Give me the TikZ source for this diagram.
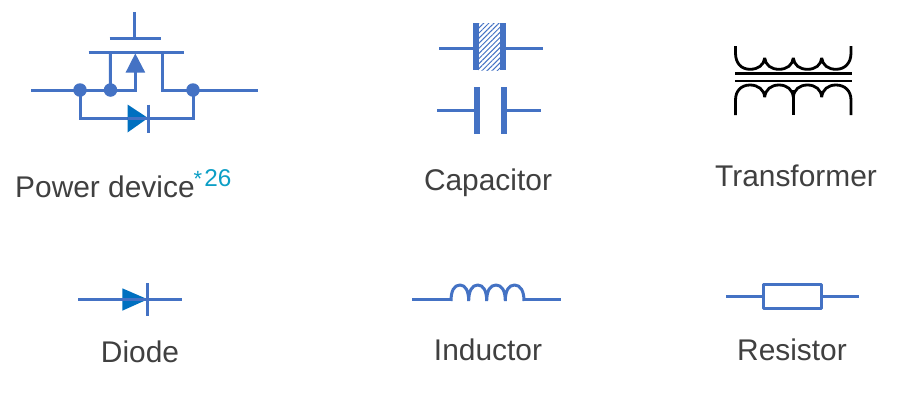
\documentclass[tikz,border=0pt]{standalone}
\usepackage{fontspec}
\setmainfont{Liberation Sans}
\usetikzlibrary{patterns.meta}
\definecolor{wireblue}{HTML}{4472C4}
\definecolor{diodeblue}{HTML}{0070C0}
\definecolor{labelgray}{HTML}{404040}
\definecolor{notecyan}{HTML}{0C9FC6}
\tikzset{
  wire/.style={draw=wireblue,line width=3pt},
  thinwire/.style={draw=wireblue,line width=3pt},
  plate/.style={fill=wireblue,draw=none},
  dot/.style={circle,fill=wireblue,draw=none,minimum size=13.5pt,inner sep=0pt},
  diodehead/.style={fill=diodeblue,draw=none},
  arrowhead/.style={fill=wireblue,draw=none},
  coil/.style={draw=black,line width=2.8pt},
  label/.style={anchor=base,text=labelgray,font=\fontsize{29.9pt}{32pt}\selectfont,inner sep=0pt},
}
\begin{document}
\begin{tikzpicture}[x=1pt,y=-1pt]
\useasboundingbox (0,0) rectangle (900,400);
\fill[white] (0,0) rectangle (900,400);
% Power device
\node[dot] (d1) at (80,90) {};
\node[dot] (d2) at (110.5,90) {};
\node[dot] (d3) at (193,90) {};
\draw[wire] (134.3,12) -- (134.3,37);
\draw[wire] (109.5,38.3) -- (160.5,38.3);
\draw[wire] (88.5,52.3) -- (184,52.3);
\draw[wire] (110.3,52.3) -- (d2.center);
\draw[wire,line join=miter] (31,90) -- (135.3,90) -- (135.3,71);
\draw[wire,line join=miter] (162.5,52.3) -- (162.5,90) -- (258,90);
\fill[arrowhead] (135.3,53.5) -- (145.2,72.5) -- (125.6,72.5) -- cycle;
\draw[wire,line join=miter] (d1.center) -- (80,118) -- (193,118) -- (d3.center);
\fill[diodehead] (127.5,104.5) -- (148,118) -- (127.5,132.5) -- cycle;
\draw[thinwire] (148,104.5) -- (148,132.5);
\draw[wire] (127.5,118) -- (148,118);
\node[anchor=base west,text=labelgray,font=\fontsize{29.9pt}{32pt}\selectfont,inner sep=0pt] (tpower) at (15,197.5) {Power device};
\node[anchor=base west,text=notecyan,font=\fontsize{24.3pt}{26pt}\selectfont,inner sep=0pt] (tnote) at (193.5,186.8) {{\fontsize{22pt}{24pt}\selectfont *}\kern 2pt 26};
% Capacitor upper
\fill[pattern={Lines[angle=45,distance=3.6pt,line width=1pt]},pattern color=wireblue] (478,23) rectangle (501,70);
\fill[plate] (473,23) rectangle (479,70);
\fill[plate] (500.3,23) rectangle (506,70);
\draw[wire] (439,48.3) -- (473,48.3);
\draw[wire] (506,48.3) -- (543,48.3);
% Capacitor lower
\fill[plate] (474,87) rectangle (480,134);
\fill[plate] (501,87) rectangle (507,134);
\draw[wire] (437,110.3) -- (474,110.3);
\draw[wire] (507,110.3) -- (541,110.3);
\node[label] (tcap) at (488,190) {Capacitor};
% Transformer
\draw[coil,line join=bevel] (735.5,46) -- (735.5,53)
  .. controls (735.5,63) and (741,69.3) .. (750,69.3)
  .. controls (758,69.3) and (764,65) .. (764.7,58)
  .. controls (765.5,65) and (771,69.3) .. (779,69.3)
  .. controls (787,69.3) and (792.5,65) .. (793.3,58)
  .. controls (794,65) and (799.5,69.3) .. (807.5,69.3)
  .. controls (815.5,69.3) and (821,65) .. (821.7,58)
  .. controls (822.5,65) and (828,69.3) .. (836,69.3)
  .. controls (845,69.3) and (851,63) .. (851,53) -- (851,46);
\draw[coil] (735,73.3) -- (852,73.3);
\draw[coil,line width=2.2pt] (735,80.7) -- (852,80.7);
\draw[coil,line join=bevel] (735.5,115) -- (735.5,100)
  .. controls (735.5,91) and (741,85) .. (750,85)
  .. controls (758,85) and (764,89.5) .. (764.7,97)
  .. controls (765.5,89.5) and (771,85) .. (779,85)
  .. controls (787,85) and (792.5,89.5) .. (793.3,97)
  .. controls (794,89.5) and (799.5,85) .. (807.5,85)
  .. controls (815.5,85) and (821,89.5) .. (821.7,97)
  .. controls (822.5,89.5) and (828,85) .. (836,85)
  .. controls (845,85) and (851,91) .. (851,100) -- (851,115);
\draw[coil] (793.3,90) -- (793.3,115);
\node[label] (ttrans) at (796,186) {Transformer};
% Diode
\draw[wire] (78.3,299.3) -- (182.3,299.3);
\fill[diodehead] (122.3,288.3) -- (147.7,299.3) -- (122.3,310.7) -- cycle;
\draw[wire] (122.3,299.3) -- (147.7,299.3);
\draw[thinwire] (147.7,283.3) -- (147.7,315.7);
\node[label] (tdiode) at (140,362) {Diode};
% Inductor
\draw[wire] (412,299.3) -- (451,299.3);
\draw[wire] (524,299.3) -- (561,299.3);
\draw[wire,line join=bevel] (451,301) .. controls (451,291) and (454,285) .. (460,285)
  .. controls (465.5,285) and (468.7,291) .. (468.7,301)
  .. controls (468.7,291) and (472,285) .. (477.7,285)
  .. controls (483.5,285) and (486.7,291) .. (486.7,301)
  .. controls (486.7,291) and (490,285) .. (496,285)
  .. controls (502,285) and (505.3,291) .. (505.3,301)
  .. controls (505.3,291) and (508.5,285) .. (514.5,285)
  .. controls (520.5,285) and (524,291) .. (524,301);
\node[label] (tind) at (488,360) {Inductor};
% Resistor
\draw[wire,line join=round] (763.5,284.8) rectangle (821.7,308);
\draw[wire] (726,296.3) -- (763.5,296.3);
\draw[wire] (821.7,296.3) -- (858.5,296.3);
\node[label] (tres) at (792,360) {Resistor};
\end{tikzpicture}
\end{document}
